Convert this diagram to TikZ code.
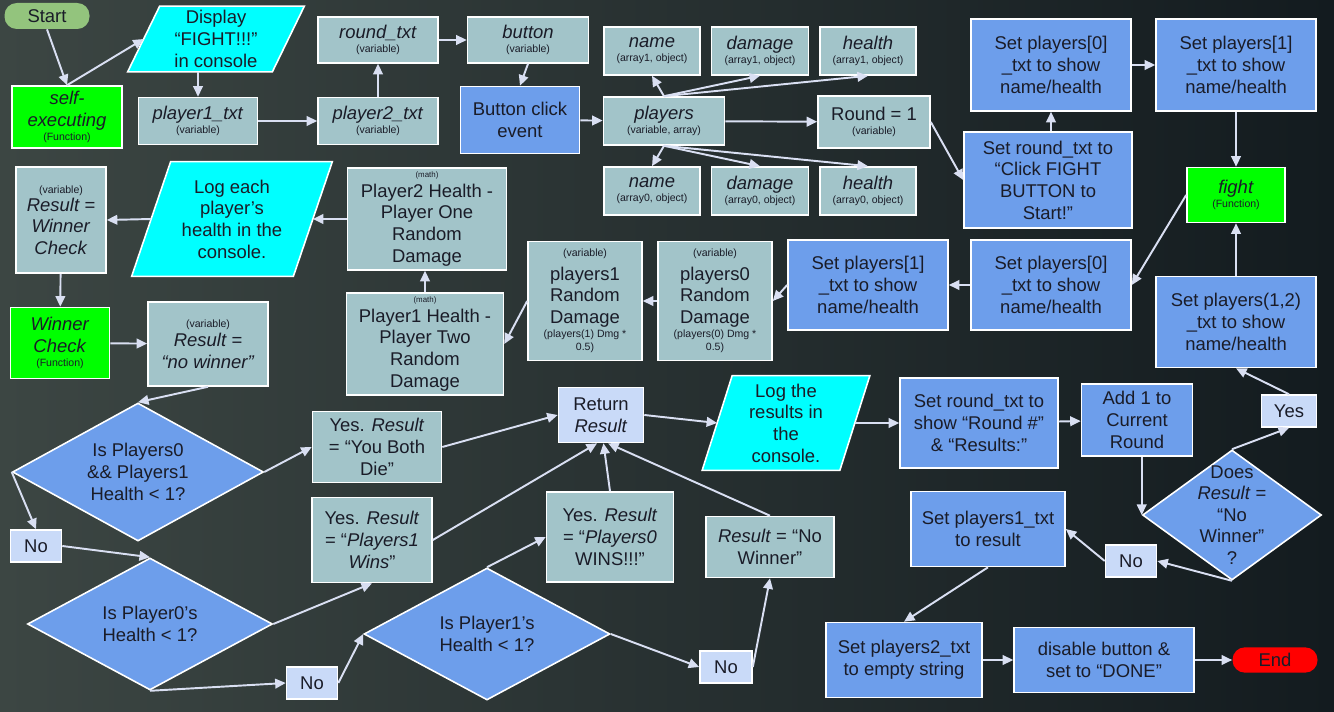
\documentclass[tikz,border=0pt]{standalone}
\usepackage{fontspec}
\setmainfont{Liberation Sans}
\usetikzlibrary{arrows.meta,shapes.geometric,backgrounds}

\definecolor{bgdark}{HTML}{131B1F}
\definecolor{bgleft}{HTML}{3C4643}
\definecolor{vargray}{HTML}{A2C4C9}
\definecolor{stepblue}{HTML}{6D9EEB}
\definecolor{paleblue}{HTML}{C9DAF8}
\definecolor{funcgreen}{HTML}{00FF00}
\definecolor{iocyan}{HTML}{00FFFF}
\definecolor{startgreen}{HTML}{93C47D}
\definecolor{endred}{HTML}{FF0000}
\definecolor{linkcol}{HTML}{D9DFF2}
\definecolor{inkcol}{HTML}{1A1C28}

\newcommand{\smallnote}[1]{{\fontsize{6}{7}\selectfont #1}}
\newcommand{\mathnote}[1]{{\fontsize{4.5}{5.5}\selectfont #1}}
% parallelogram round a plain text node: node name, half slant
\newcommand{\ioshape}[2]{\draw[ioline] ([xshift=#2]#1.north west) -- ([xshift=#2]#1.north east)
  -- ([xshift=-#2]#1.south east) -- ([xshift=-#2]#1.south west) -- cycle;}

\tikzset{
  box/.style={draw=white, line width=0.9pt, align=center, inner sep=1pt,
    text=inkcol, font=\fontsize{10.5}{12.3}\selectfont},
  sz/.style 2 args={minimum width=#1*0.02cm, minimum height=#2*0.02cm},
  var/.style={box, fill=vargray},
  act/.style={box, fill=stepblue},
  func/.style={box, fill=funcgreen},
  answer/.style={box, fill=paleblue},
  io/.style={align=center, inner sep=1pt, text=inkcol, font=\fontsize{10.5}{12.3}\selectfont},
  ioline/.style={draw=white, line width=0.9pt, fill=iocyan, line join=miter},
  decide/.style={box, fill=stepblue, diamond, inner sep=1pt},
  inner/.style={align=center, text=inkcol, inner sep=0pt, font=\fontsize{10.5}{12.3}\selectfont},
  pill/.style={rounded corners=7pt, text=inkcol, font=\fontsize{10.5}{12.3}\selectfont},
  link/.style={->, draw=linkcol, line width=1.1pt}
}

\begin{document}
\begin{tikzpicture}[x=0.02cm, y=-0.02cm, >={Triangle[length=6pt,width=5.5pt]}]
    \useasboundingbox (0,0) rectangle (1334,712);
    \begin{pgfonlayer}{background}
      \shade[left color=bgleft, right color=bgdark] (0,0) rectangle (1334,712);
    \end{pgfonlayer}

    % start and first row
    \node[pill, fill=startgreen, sz={85}{26}] (start) at (47,16) {Start};
    \node[func, sz={110}{62}] (selfexec) at (67,117) {\textit{self-}\\\textit{executing}\\[-4.3pt]\smallnote{(Function)}};
    \node[io, sz={144}{65}] (display) at (216,39) {Display\\“FIGHT!!!”\\in console};
    \node[var, sz={119}{47}] (ponetxt) at (198,121) {\textit{player1\_txt}\\[-4.6pt]\smallnote{(variable)}};
    \node[var, sz={120}{47}] (ptwotxt) at (378,121) {\textit{player2\_txt}\\[-4.6pt]\smallnote{(variable)}};
    \node[var, sz={120}{46}] (roundtxt) at (378,40) {\textit{round\_txt}\\[-4.6pt]\smallnote{(variable)}};
    \node[var, sz={121}{46}] (button) at (528,40) {\textit{button}\\[-4.6pt]\smallnote{(variable)}};
    \node[act, sz={119}{67}] (click) at (520,120) {Button click\\event};
    \node[var, sz={121}{48}] (players) at (664,121) {\textit{players}\\[-4.3pt]\smallnote{(variable, array)}};
    \node[var, sz={96}{48}] (nameone) at (652,51) {\textit{name}\\[-4.3pt]\smallnote{(array1, object)}};
    \node[var, sz={97}{48}] (dmgone) at (760,51) {\textit{damage}\\[-4.3pt]\smallnote{(array1, object)}};
    \node[var, sz={96}{48}] (hpone) at (868,51) {\textit{health}\\[-4.3pt]\smallnote{(array1, object)}};
    \node[var, sz={112}{52}] (round) at (874,122) {Round = 1\\[-4.3pt]\smallnote{(variable)}};
    \node[var, sz={96}{48}] (namezero) at (652,191) {\textit{name}\\[-4.3pt]\smallnote{(array0, object)}};
    \node[var, sz={97}{48}] (dmgzero) at (760,191) {\textit{damage}\\[-4.3pt]\smallnote{(array0, object)}};
    \node[var, sz={96}{48}] (hpzero) at (868,191) {\textit{health}\\[-4.3pt]\smallnote{(array0, object)}};
    \node[act, sz={160}{92}] (setzero) at (1051,65) {Set players[0]\\\_txt to show\\name/health};
    \node[act, sz={160}{92}] (setone) at (1236,65) {Set players[1]\\\_txt to show\\name/health};
    \node[act, sz={168}{96}] (setround) at (1048,180) {Set round\_txt to\\“Click FIGHT\\BUTTON to\\Start!”};
    \node[func, sz={98}{55}] (fight) at (1236,195) {\textit{fight}\\[-4.6pt]\smallnote{(Function)}};

    % second row
    \node[var, sz={90}{106}] (resvar) at (61,220) {\smallnote{(variable)}\\[-2pt]\textit{Result =}\\\textit{Winner}\\\textit{Check}};
    \node[io, sz={161}{114}] (logeach) at (232,219) {Log each\\player’s\\health in the\\console.};
    \node[var, sz={159}{102}] (ptwohp) at (427,219) {\mathnote{(math)}\\[-1.3pt]Player2 Health -\\Player One\\Random\\Damage};
    \node[var, sz={157}{102}] (ponehp) at (425,344) {\mathnote{(math)}\\[-1.3pt]Player1 Health -\\Player Two\\Random\\Damage};
    \node[var, sz={114}{119}] (ponerd) at (585,301) {\smallnote{(variable)}\\[1pt]players1\\Random\\Damage\\[-4.3pt]\smallnote{(players(1) Dmg *}\\[-4.8pt]\smallnote{0.5)}};
    \node[var, sz={114}{119}] (pzerord) at (715,301) {\smallnote{(variable)}\\[1pt]players0\\Random\\Damage\\[-4.3pt]\smallnote{(players(0) Dmg *}\\[-4.8pt]\smallnote{0.5)}};
    \node[act, sz={160}{90}] (setonemid) at (868,285) {Set players[1]\\\_txt to show\\name/health};
    \node[act, sz={160}{90}] (setzeromid) at (1051,285) {Set players[0]\\\_txt to show\\name/health};
    \node[act, sz={160}{91}] (setboth) at (1236,322) {Set players(1,2)\\\_txt to show\\name/health};
    \node[func, sz={99}{71}] (winner) at (60,343) {\textit{Winner}\\\textit{Check}\\[-4.3pt]\smallnote{(Function)}};
    \node[var, sz={120}{84}] (nowin) at (208,344) {\smallnote{(variable)}\\[-1.5pt]\textit{Result =}\\\textit{“no winner”}};

    % checks
    \node[decide, sz={251}{138}, label={[inner]center:{Is Players0\\\&\& Players1\\Health < 1?}}] (dboth) at (138,472) {};
    \node[answer, sz={51}{32}] (noa) at (36,546) {No};
    \node[decide, sz={245}{132}, label={[inner]center:{Is Player0’s\\Health < 1?}}] (dzero) at (150,624) {};
    \node[answer, sz={51}{32}] (nob) at (312,683) {No};
    \node[decide, sz={246}{132}, label={[inner]center:{Is Player1’s\\Health < 1?}}] (done) at (487,634) {};
    \node[answer, sz={52}{32}] (noc) at (726,667) {No};
    \node[var, sz={129}{71}] (bothdie) at (377,447) {Yes. \textit{Result}\\= “You Both\\Die”};
    \node[var, sz={120}{85}] (onewins) at (372,540) {Yes. \textit{Result}\\= “\textit{Players1}\\\textit{Wins}”};
    \node[var, sz={127}{90}] (zerowins) at (610,537) {Yes. \textit{Result}\\= “\textit{Players0}\\WINS!!!”};
    \node[var, sz={128}{61}] (nowinner) at (770,547) {\textit{Result} = “No\\Winner”};
    \node[answer, sz={85}{55}] (ret) at (601,415) {Return\\\textit{Result}};
    \node[io, sz={137}{94}] (logres) at (786,423) {Log the\\results in\\the\\console.};
    \node[act, sz={158}{90}] (showround) at (979,423) {Set round\_txt to\\show “Round \#”\\\& “Results:”};
    \node[act, sz={111}{72}] (addone) at (1137,420) {Add 1 to\\Current\\Round};
    \node[answer, sz={55}{32}] (yes) at (1289,411) {Yes};
    \node[decide, sz={179}{130}, label={[inner]center:{Does\\\textit{Result} =\\“No\\Winner”\\?}}] (dres) at (1232,515) {};
    \node[answer, sz={51}{32}] (nod) at (1131,561) {No};
    \node[act, sz={154}{75}] (settxtone) at (988,529) {Set players1\_txt\\to result};
    \node[act, sz={156}{75}] (settxttwo) at (904,660) {Set players2\_txt\\to empty string};
    \node[act, sz={180}{65}] (disable) at (1104,660) {disable button \&\\set to “DONE”};
    \node[pill, fill=endred, sz={85}{25}] (finish) at (1275,660) {End};

    \begin{pgfonlayer}{background}
      \ioshape{display}{0.32cm}
      \ioshape{logeach}{0.39cm}
      \ioshape{logres}{0.3cm}
    \end{pgfonlayer}

    \draw[link] (start.south) -- (selfexec.north);
    \draw[link] (selfexec.north) -- (display.west);
    \draw[link] (display.south -| ponetxt.north) -- (ponetxt.north);
    \draw[link] (ponetxt) -- (ptwotxt);
    \draw[link] (ptwotxt) -- (roundtxt);
    \draw[link] (roundtxt) -- (button);
    \draw[link] (button.south) -- (click.north);
    \draw[link] (click) -- (players);
    \draw[link] (players.north) -- (nameone.south);
    \draw[link] (players.north) -- (dmgone.south);
    \draw[link] (players.north) -- (hpone.south);
    \draw[link] (players) -- (round);
    \draw[link] (players.south) -- (namezero.north);
    \draw[link] (players.south) -- (dmgzero.north);
    \draw[link] (players.south) -- (hpzero.north);
    \draw[link] (round.east) -- (setround.west);
    \draw[link] (setzero.south |- setround.north) -- (setzero.south);
    \draw[link] (setzero) -- (setone);
    \draw[link] (setone) -- (fight);
    \draw[link] (fight.west) -- (setzeromid.east);
    \draw[link] (setboth) -- (fight);
    \draw[link] (setzeromid) -- (setonemid);
    \draw[link] (setonemid.west) -- (pzerord.east);
    \draw[link] (pzerord) -- (ponerd);
    \draw[link] (ponerd.west) -- (ponehp.east);
    \draw[link] (ponehp.north) -- (ponehp.north |- ptwohp.south);
    \draw[link] (ptwohp.west) -- (logeach.east);
    \draw[link] (logeach.west) -- (resvar.east);
    \draw[link] (resvar) -- (winner);
    \draw[link] (winner) -- (nowin);
    \draw[link] (nowin.south) -- (dboth.north);
    \draw[link] (dboth.east) -- (bothdie.west);
    \draw[link] (dboth.west) -- (noa.north);
    \draw[link] (noa.east) -- (dzero.north);
    \draw[link] (dzero.east) -- (onewins.south);
    \draw[link] (dzero.south) -- (nob.west);
    \draw[link] (nob.east) -- (done.west);
    \draw[link] (done.north) -- (zerowins.west);
    \draw[link] (done.east) -- (noc.west);
    \draw[link] (noc.east) -- (nowinner.south);
    \draw[link] (bothdie.east) -- (ret.west);
    \draw[link] (onewins.east) -- (ret.262);
    \draw[link] (zerowins.north) -- (ret.275);
    \draw[link] (nowinner.north) -- (ret.284);
    \draw[link] (ret.east) -- (logres.west);
    \draw[link] (logres.east) -- (showround.west);
    \draw[link] (showround) -- (addone);
    \draw[link] (addone.south -| dres.west) -- (dres.west);
    \draw[link] (dres.north) -- (yes.south);
    \draw[link] (yes.north) -- (setboth.south);
    \draw[link] (dres.south) -- (nod.east);
    \draw[link] (nod.west) -- (settxtone.east);
    \draw[link] (settxtone.south) -- (settxttwo.north);
    \draw[link] (settxttwo) -- (disable);
    \draw[link] (disable) -- (finish);
\end{tikzpicture}
\end{document}
